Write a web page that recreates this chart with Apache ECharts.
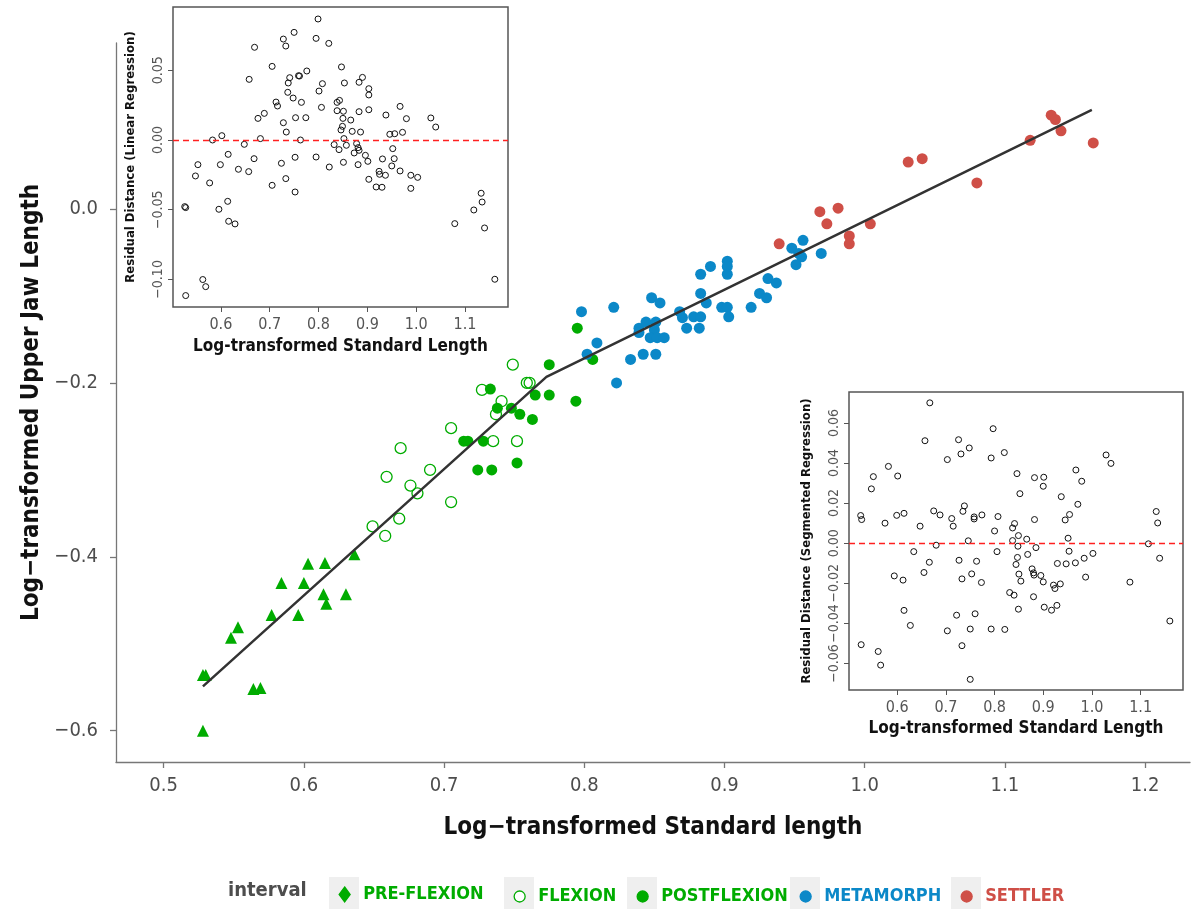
<!DOCTYPE html>
<html>
<head>
<meta charset="utf-8">
<title>Upper jaw length vs standard length</title>
<script src="https://cdn.jsdelivr.net/npm/echarts@6.0.0/dist/echarts.min.js"></script>
<style>
html,body{margin:0;padding:0;background:#fff;}
#myChart{width:1191px;height:909px;}
</style>
</head>
<body>
<div id="myChart"></div>
<script>
// main plot: log SL vs log upper jaw length, by interval
var preX = [0.528,0.530,0.528,0.548,0.553,0.564,0.569,0.577,0.584,0.596,0.600,0.603,0.615,0.614,0.616,0.630,0.636];
var preY = [-0.536,-0.536,-0.600,-0.493,-0.481,-0.552,-0.551,-0.467,-0.430,-0.467,-0.430,-0.408,-0.407,-0.443,-0.454,-0.443,-0.397];
var flexX = [0.749,0.727,0.759,0.761,0.741,0.737,0.705,0.669,0.735,0.752,0.690,0.659,0.676,0.681,0.705,0.668,0.649,0.658];
var flexY = [-0.179,-0.208,-0.200,-0.200,-0.221,-0.236,-0.252,-0.275,-0.267,-0.267,-0.300,-0.308,-0.318,-0.327,-0.337,-0.356,-0.365,-0.376];
var postX = [0.775,0.733,0.765,0.775,0.794,0.738,0.748,0.754,0.763,0.714,0.717,0.728,0.724,0.734,0.752,0.795,0.806];
var postY = [-0.179,-0.207,-0.214,-0.214,-0.221,-0.229,-0.229,-0.236,-0.242,-0.267,-0.267,-0.267,-0.300,-0.300,-0.292,-0.137,-0.173];
var metaX = [0.798,0.821,0.809,0.802,0.833,0.823,0.842,0.851,0.848,0.854,0.839,0.844,0.839,0.851,0.850,0.847,0.852,0.857,0.868,0.870,0.873,0.878,0.883,0.882,0.883,0.887,0.883,0.890,0.902,0.902,0.902,0.898,0.902,0.903,0.919,0.925,0.930,0.931,0.937,0.948,0.956,0.953,0.955,0.951,0.969];
var metaY = [-0.118,-0.113,-0.154,-0.167,-0.173,-0.200,-0.167,-0.167,-0.102,-0.108,-0.137,-0.130,-0.142,-0.130,-0.139,-0.148,-0.148,-0.148,-0.118,-0.125,-0.137,-0.124,-0.124,-0.137,-0.097,-0.108,-0.075,-0.066,-0.060,-0.066,-0.075,-0.113,-0.113,-0.124,-0.113,-0.097,-0.102,-0.080,-0.085,-0.045,-0.036,-0.051,-0.055,-0.064,-0.051];
var settX = [0.939,0.968,0.981,0.973,0.989,0.989,1.004,1.031,1.041,1.080,1.118,1.133,1.136,1.140,1.163];
var settY = [-0.040,-0.003,0.001,-0.017,-0.031,-0.040,-0.017,0.054,0.058,0.030,0.079,0.108,0.103,0.090,0.076];
// segmented fit
var fitX = [0.528,0.773,1.162];
var fitY = [-0.549,-0.193,0.114];

// inset 1: residuals of the linear regression
var linResX = [0.799,0.750,0.795,0.728,0.821,0.733,0.669,0.705,0.847,0.776,0.759,0.761,0.741,0.658,0.738,0.853,0.808,0.883,0.890,0.903,0.801,0.737,0.903,0.748,0.843,0.838,0.713,0.765,0.716,0.806,0.967,0.838,0.851,0.883,0.903,0.689,0.676,0.753,0.774,0.866,0.850,0.980,0.938,1.030,0.728,0.849,1.040,0.846,0.869,0.734,0.886,0.946,0.956,0.972,0.602,0.583,0.681,0.763,0.852,0.648,0.832,0.857,0.878,0.881,0.842,0.883,0.873,0.615,0.795,0.752,0.896,0.952,0.668,0.931,0.955,0.901,0.553,0.599,0.724,0.851,0.881,0.950,0.822,0.548,0.733,0.636,0.657,0.924,0.925,0.937,0.967,0.989,1.003,0.577,0.705,0.903,0.918,0.930,0.989,0.752,1.133,1.135,0.526,0.528,0.614,0.596,1.118,0.616,0.629,1.079,1.140,0.563,0.569,0.528,1.161];
var linResY = [0.0868,0.0772,0.0729,0.0724,0.0693,0.0674,0.0665,0.0528,0.0524,0.0495,0.0461,0.0459,0.0447,0.0435,0.0409,0.0409,0.0404,0.0414,0.0449,0.0368,0.0351,0.0342,0.0323,0.0301,0.0284,0.0270,0.0272,0.0270,0.0244,0.0234,0.0241,0.0210,0.0206,0.0203,0.0217,0.0191,0.0155,0.0160,0.0160,0.0143,0.0155,0.0153,0.0179,0.0158,0.0124,0.0098,0.0093,0.0072,0.0062,0.0057,0.0057,0.0041,0.0045,0.0055,0.0031,0.0000,0.0010,0.0000,0.0010,-0.0031,-0.0033,-0.0038,-0.0026,-0.0055,-0.0069,-0.0074,-0.0093,-0.0103,-0.0122,-0.0124,-0.0110,-0.0062,-0.0134,-0.0136,-0.0134,-0.0153,-0.0177,-0.0177,-0.0167,-0.0160,-0.0177,-0.0186,-0.0194,-0.0258,-0.0277,-0.0210,-0.0227,-0.0225,-0.0246,-0.0253,-0.0222,-0.0253,-0.0268,-0.0308,-0.0325,-0.0282,-0.0337,-0.0339,-0.0347,-0.0373,-0.0382,-0.0445,-0.0478,-0.0485,-0.0440,-0.0497,-0.0502,-0.0583,-0.0602,-0.0600,-0.0631,-0.1001,-0.1052,-0.1116,-0.0999];

// inset 2: residuals of the segmented regression
var segResX = [0.667,0.797,0.726,0.657,0.748,0.731,0.820,0.793,0.703,1.029,1.039,0.582,0.551,0.601,0.846,0.967,0.882,0.901,0.900,0.979,0.547,0.852,0.937,0.738,0.971,0.675,0.735,0.688,0.758,0.774,1.132,0.525,0.527,0.599,0.614,0.712,0.758,0.807,0.954,0.945,1.135,0.575,0.715,0.647,0.841,0.837,0.882,0.800,0.849,0.866,0.837,0.746,0.951,0.680,0.848,1.116,0.634,0.805,0.885,0.953,1.002,0.868,0.847,0.984,1.139,0.666,0.727,0.763,0.844,0.929,0.947,0.966,0.877,0.880,0.655,0.753,0.850,0.881,0.895,0.594,0.612,0.733,0.773,0.854,0.900,0.987,1.078,0.921,0.924,0.935,0.831,0.840,0.880,0.614,0.760,0.849,0.902,0.917,0.928,0.627,0.703,0.722,0.750,0.793,0.821,1.160,0.526,0.561,0.733,0.566,0.750];
var segResY = [0.0700,0.0571,0.0516,0.0511,0.0475,0.0445,0.0452,0.0425,0.0417,0.0440,0.0398,0.0383,0.0332,0.0335,0.0347,0.0365,0.0327,0.0329,0.0284,0.0309,0.0271,0.0247,0.0232,0.0186,0.0194,0.0161,0.0159,0.0141,0.0131,0.0141,0.0158,0.0138,0.0118,0.0139,0.0149,0.0123,0.0121,0.0133,0.0143,0.0116,0.0101,0.0100,0.0085,0.0085,0.0098,0.0076,0.0118,0.0061,0.0038,0.0020,0.0013,0.0012,0.0025,-0.0010,-0.0015,-0.0003,-0.0042,-0.0042,-0.0022,-0.0040,-0.0051,-0.0056,-0.0071,-0.0075,-0.0075,-0.0095,-0.0085,-0.0090,-0.0106,-0.0101,-0.0103,-0.0098,-0.0128,-0.0148,-0.0146,-0.0153,-0.0154,-0.0159,-0.0161,-0.0163,-0.0184,-0.0178,-0.0196,-0.0189,-0.0193,-0.0169,-0.0194,-0.0209,-0.0226,-0.0203,-0.0246,-0.0259,-0.0267,-0.0335,-0.0352,-0.0329,-0.0319,-0.0334,-0.0310,-0.0410,-0.0437,-0.0359,-0.0428,-0.0428,-0.0430,-0.0388,-0.0506,-0.0540,-0.0511,-0.0608,-0.0679];

// tick labels
var mainXTicks = [0.5,0.6,0.7,0.8,0.9,1.0,1.1,1.2];
var mainYTicks = [0,-0.2,-0.4,-0.6];
var insetXTicks = [0.6,0.7,0.8,0.9,1.0,1.1];
var linYTicks = [0.05,0,-0.05,-0.10];
var segYTicks = [0.06,0.04,0.02,0,-0.02,-0.04,-0.06];

var FONT = "'Liberation Sans Narrow','DejaVu Sans Condensed','DejaVu Sans',sans-serif";
var GREEN = '#00AC00', BLUE = '#0B88C8', RED = '#CF4F47', DASH = '#FF2020';

var zip = function(xs, ys) {
	return xs.map(function(x, i) { return [x, ys[i]]; });
};
var fmt = function(d) {
	return function(v) { return v.toFixed(d).replace('-', '\u2212'); };
};
// small deep merge for the axis presets
var merge = function(t, s) {
	for (var k in s) {
		if (s[k] && typeof s[k] === 'object' && !Array.isArray(s[k])) {
			t[k] = t[k] && typeof t[k] === 'object' ? t[k] : {};
			merge(t[k], s[k]);
		} else {
			t[k] = s[k];
		}
	}
	return t;
};

var mainAxis = function(o) {
	return merge({
		type: 'value',
		gridIndex: 0,
		axisLine: {show: true, onZero: false, lineStyle: {color: '#777', width: 1.3}},
		axisTick: {show: true, length: 6, lineStyle: {color: '#777', width: 1.3}},
		axisLabel: {fontSize: 20, color: '#4D4D4D', fontFamily: FONT, hideOverlap: false},
		splitLine: {show: false},
		nameLocation: 'middle',
		nameTextStyle: {fontSize: 24, fontWeight: 'bold', color: '#111', fontFamily: FONT}
	}, o);
};
var insetAxis = function(o) {
	return merge({
		type: 'value',
		axisLine: {show: false, onZero: false},
		axisTick: {show: true, length: 5, lineStyle: {color: '#555', width: 1}},
		axisLabel: {fontSize: 16, color: '#555', fontFamily: FONT, hideOverlap: false, showMinLabel: true, showMaxLabel: true},
		splitLine: {show: false},
		nameLocation: 'middle',
		nameTextStyle: {fontWeight: 'bold', color: '#111', fontFamily: FONT}
	}, o);
};

var insetSeries = function(idx, xs, ys) {
	return {
		type: 'scatter',
		xAxisIndex: idx,
		yAxisIndex: idx,
		symbol: 'circle',
		symbolSize: 6,
		itemStyle: {color: 'rgba(0,0,0,0)', borderColor: '#111', borderWidth: 1, opacity: 1},
		data: zip(xs, ys),
		markLine: {
			silent: true,
			symbol: ['none', 'none'],
			label: {show: false},
			lineStyle: {color: DASH, type: [6, 4], width: 1.3, opacity: 1},
			data: [{yAxis: 0, lineStyle: {color: DASH, type: [6, 4], width: 1.3}}]
		}
	};
};

var myChart = echarts.init(document.getElementById('myChart'));

// one legend per key so the grey key boxes can sit behind them
var legendKeys = [
	{name: 'PRE-FLEXION', icon: 'diamond', c: 344, w: 11, h: 15, fill: GREEN, border: GREEN, text: GREEN},
	{name: 'FLEXION', icon: 'circle', c: 519, w: 11, h: 11, fill: '#fff', border: GREEN, text: GREEN},
	{name: 'POSTFLEXION', icon: 'circle', c: 642, w: 11, h: 11, fill: GREEN, border: GREEN, text: GREEN},
	{name: 'METAMORPH', icon: 'circle', c: 805, w: 11, h: 11, fill: BLUE, border: BLUE, text: BLUE},
	{name: 'SETTLER', icon: 'circle', c: 966, w: 11, h: 11, fill: RED, border: RED, text: RED}
];
var legends = legendKeys.map(function(k) {
	return {
		left: k.c - k.w / 2,
		top: 893 - k.h / 2,
		padding: 0,
		itemWidth: k.w,
		itemHeight: k.h,
		selectedMode: false,
		data: [{name: k.name, icon: k.icon, itemStyle: {color: k.fill, borderColor: k.border, borderWidth: 1.3, opacity: 1}}],
		textStyle: {color: k.text, fontSize: 18, fontWeight: 'bold', fontFamily: FONT, padding: [0, 0, 0, 8]}
	};
});
var keyBoxes = legendKeys.map(function(k) {
	return {type: 'rect', shape: {x: k.c - 15, y: 877, width: 30, height: 32}, style: {fill: '#EFEFEF'}, z: -1};
});

var option = {
	animation: false,
	backgroundColor: '#fff',
	title: {
		text: 'interval', left: 228, top: 881, padding: 0,
		textStyle: {fontSize: 20, fontWeight: 'bold', color: '#4D4D4D', fontFamily: FONT}
	},
	legend: legends,
	graphic: keyBoxes,
	grid: [
		{left: 116, right: 1, top: 43, bottom: 147},
		{left: 173, top: 7, width: 335, height: 300, show: true, backgroundColor: '#fff', borderColor: '#555', borderWidth: 1.5},
		{left: 849, top: 392, width: 334, height: 298, show: true, backgroundColor: '#fff', borderColor: '#555', borderWidth: 1.5}
	],
	xAxis: [
		mainAxis({
			min: 0.466, max: 1.232,
			axisTick: {customValues: mainXTicks},
			axisLabel: {customValues: mainXTicks, formatter: fmt(1), margin: 14},
			name: 'Log\u2212transformed Standard length', nameGap: 54
		}),
		insetAxis({
			gridIndex: 1, min: 0.502, max: 1.188,
			axisTick: {customValues: insetXTicks},
			axisLabel: {customValues: insetXTicks, formatter: fmt(1), margin: 10},
			name: 'Log-transformed Standard Length', nameGap: 31,
			nameTextStyle: {fontSize: 17}
		}),
		insetAxis({
			gridIndex: 2, min: 0.501, max: 1.187,
			axisTick: {customValues: insetXTicks},
			axisLabel: {customValues: insetXTicks, formatter: fmt(1), margin: 10},
			name: 'Log-transformed Standard Length', nameGap: 30,
			nameTextStyle: {fontSize: 17}
		})
	],
	yAxis: [
		mainAxis({
			min: -0.636, max: 0.191,
			axisTick: {customValues: mainYTicks},
			axisLabel: {customValues: mainYTicks, formatter: fmt(1), margin: 18},
			name: 'Log\u2212transformed Upper Jaw Length', nameGap: 68
		}),
		insetAxis({
			gridIndex: 1, min: -0.1198, max: 0.0954,
			axisTick: {customValues: linYTicks},
			axisLabel: {customValues: linYTicks, formatter: fmt(2), rotate: 90, margin: 8, fontSize: 14},
			name: 'Residual Distance (Linear Regression)', nameGap: 36,
			nameTextStyle: {fontSize: 13}
		}),
		insetAxis({
			gridIndex: 2, min: -0.0732, max: 0.0754,
			axisTick: {customValues: segYTicks},
			axisLabel: {customValues: segYTicks, formatter: fmt(2), rotate: 90, margin: 8, fontSize: 14},
			name: 'Residual Distance (Segmented Regression)', nameGap: 36,
			nameTextStyle: {fontSize: 13}
		})
	],
	series: [
		{name: 'PRE-FLEXION', type: 'scatter', symbol: 'triangle', symbolSize: 12,
			itemStyle: {color: GREEN, opacity: 1}, data: zip(preX, preY)},
		{name: 'FLEXION', type: 'scatter', symbol: 'circle', symbolSize: 11,
			itemStyle: {color: 'rgba(255,255,255,0)', borderColor: GREEN, borderWidth: 1.3, opacity: 1}, data: zip(flexX, flexY)},
		{name: 'POSTFLEXION', type: 'scatter', symbol: 'circle', symbolSize: 11,
			itemStyle: {color: GREEN, opacity: 1}, data: zip(postX, postY)},
		{name: 'METAMORPH', type: 'scatter', symbol: 'circle', symbolSize: 11,
			itemStyle: {color: BLUE, opacity: 1}, data: zip(metaX, metaY)},
		{name: 'SETTLER', type: 'scatter', symbol: 'circle', symbolSize: 11,
			itemStyle: {color: RED, opacity: 1}, data: zip(settX, settY)},
		{name: 'fit', type: 'line', showSymbol: false, symbol: 'none', z: 5,
			lineStyle: {color: '#333', width: 2.5}, data: zip(fitX, fitY)},
		insetSeries(1, linResX, linResY),
		insetSeries(2, segResX, segResY)
	]
};
myChart.setOption(option);
</script>
</body>
</html>
